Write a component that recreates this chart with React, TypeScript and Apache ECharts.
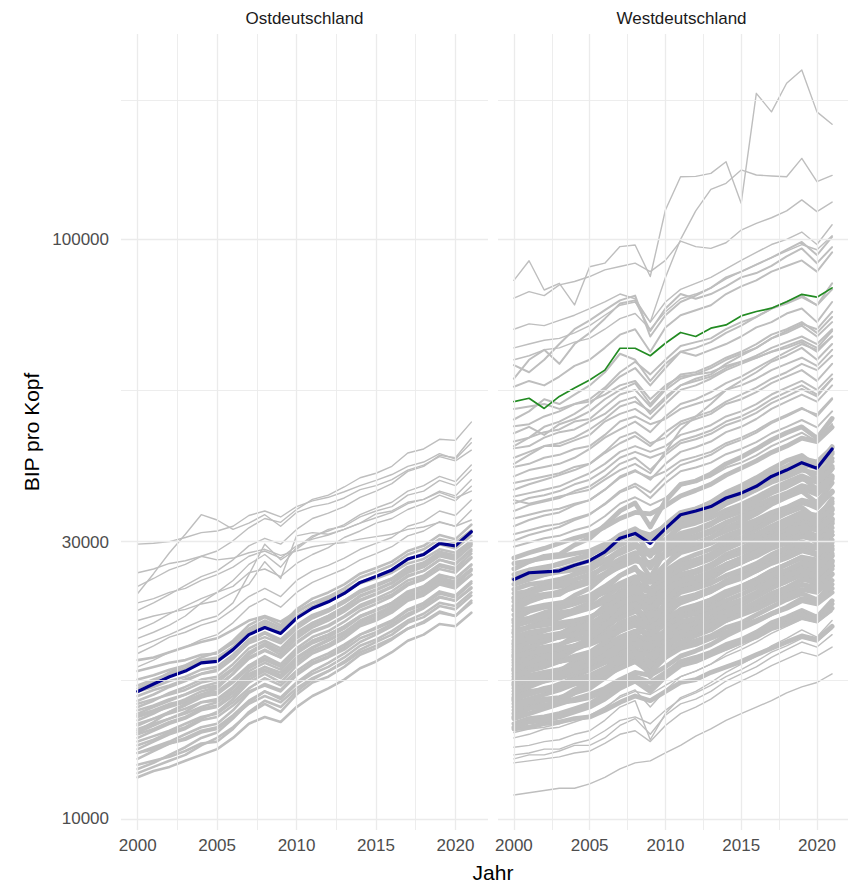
import React, { useEffect, useRef } from "react";
import * as echarts from "echarts";

// ---------------- data (GDP per capita, thousand EUR) ----------------
const years = [2000, 2001, 2002, 2003, 2004, 2005, 2006, 2007, 2008, 2009, 2010,
  2011, 2012, 2013, 2014, 2015, 2016, 2017, 2018, 2019, 2020, 2021];
const xTickValues = [2000, 2005, 2010, 2015, 2020];
const xMinorValues = [2002.5, 2007.5, 2012.5, 2017.5];
const yTickValues = [10000, 30000, 100000];
const yMinorValues = [17320.5, 54772.3, 173205];
const panelTitles = ["Ostdeutschland", "Westdeutschland"];
const xTitle = "Jahr";
const yTitle = "BIP pro Kopf";

const eastMean = [16.6, 17.1, 17.6, 18.0, 18.6, 18.7, 19.6, 20.8, 21.4, 20.9, 22.2, 23.1, 23.7, 24.5, 25.6, 26.2, 26.9, 28.1, 28.6, 29.9, 29.6, 31.3];

const eastUpper = [
  [25.2, 26.0, 26.9, 27.5, 28.4, 29.0, 30.2, 31.8, 33.0, 32.5, 34.2, 35.6, 36.2, 37.4, 38.8, 39.5, 40.6, 42.8, 43.5, 45.2, 45.0, 48.4],
  [22.9, 23.6, 24.4, 25.3, 26.2, 26.8, 28.0, 29.6, 30.5, 29.8, 31.6, 33.0, 33.7, 34.6, 35.9, 36.8, 37.9, 39.8, 40.6, 42.4, 42.0, 45.4],
  [29.8, 29.9, 30.1, 30.6, 31.2, 31.4, 32.0, 33.4, 34.0, 33.2, 34.6, 35.4, 35.9, 36.7, 37.6, 38.4, 39.3, 40.6, 41.3, 42.7, 41.8, 44.6],
  [24.5, 26.5, 28.8, 31.0, 33.5, 32.8, 31.6, 32.4, 33.5, 32.0, 33.8, 34.6, 35.0, 35.8, 37.0, 37.6, 38.5, 40.0, 40.8, 42.2, 41.5, 43.3],
  [21.2, 21.8, 22.6, 23.3, 24.0, 24.6, 25.8, 27.5, 28.6, 27.2, 29.4, 30.8, 31.4, 32.2, 33.5, 34.4, 35.2, 36.8, 37.6, 39.0, 38.2, 40.8],
  [19.8, 20.3, 20.8, 21.4, 22.0, 22.4, 23.6, 26.4, 29.8, 28.0, 29.2, 30.6, 31.6, 32.0, 33.2, 34.0, 34.6, 36.2, 36.8, 38.4, 37.6, 40.0],
  [23.6, 24.0, 24.6, 25.0, 25.8, 26.4, 27.2, 28.4, 29.0, 28.2, 29.6, 30.4, 30.9, 31.6, 32.4, 33.1, 33.8, 35.0, 35.6, 36.8, 36.1, 38.5],
  [19.3, 19.9, 20.6, 21.0, 21.6, 22.0, 23.0, 24.2, 25.0, 24.2, 25.8, 26.8, 27.4, 28.2, 29.2, 29.9, 30.6, 32.0, 32.6, 34.0, 33.4, 35.5],
  [18.3, 18.8, 19.4, 19.8, 20.4, 20.8, 21.8, 23.2, 24.0, 23.2, 24.6, 25.6, 26.3, 27.0, 28.0, 28.7, 29.5, 30.8, 31.4, 32.6, 32.0, 34.1],
  [26.6, 27.0, 27.6, 27.9, 28.4, 28.0, 28.2, 28.8, 29.2, 28.5, 29.0, 29.5, 29.8, 30.0, 30.4, 30.7, 31.0, 31.6, 31.9, 32.5, 32.0, 32.8],
  [22.0, 22.4, 22.7, 23.0, 23.5, 23.8, 24.6, 25.4, 27.8, 26.0, 30.8, 31.2, 31.0, 31.6, 32.4, 33.6, 34.0, 35.2, 35.6, 36.6, 35.8, 36.8],
  [20.5, 21.0, 21.6, 22.4, 23.6, 24.6, 25.2, 26.6, 27.0, 26.2, 27.6, 28.6, 29.4, 30.6, 31.4, 32.4, 33.0, 34.2, 35.0, 36.2, 35.4, 37.5],
];

const eastMass = [
  [11.8, 12.1, 12.3, 12.6, 12.9, 13.2, 13.8, 14.6, 15.0, 14.7, 15.6, 16.3, 16.8, 17.4, 18.2, 18.7, 19.4, 20.3, 20.8, 21.7, 21.5, 22.7],
  [12.0, 12.3, 12.6, 12.9, 13.4, 13.8, 14.4, 15.2, 15.8, 15.3, 16.4, 17.2, 17.6, 18.3, 19.2, 19.7, 20.4, 21.3, 21.9, 22.8, 22.4, 23.8],
  [12.4, 12.6, 12.8, 13.1, 13.5, 13.6, 14.3, 15.3, 16.0, 15.6, 16.6, 17.4, 18.0, 18.7, 19.6, 20.2, 20.8, 21.8, 22.3, 23.3, 23.0, 24.3],
  [12.7, 13.1, 13.5, 13.8, 14.2, 14.4, 15.1, 16.0, 16.6, 16.1, 17.1, 17.8, 18.3, 19.0, 19.9, 20.4, 21.1, 22.0, 22.6, 23.6, 23.3, 24.6],
  [13.0, 13.3, 13.6, 14.0, 14.4, 14.6, 15.4, 16.5, 17.1, 16.7, 17.8, 18.6, 19.1, 19.8, 20.8, 21.3, 21.9, 22.9, 23.4, 24.5, 24.1, 25.5],
  [13.2, 13.6, 14.0, 14.3, 14.8, 15.0, 15.7, 16.6, 17.0, 16.6, 17.7, 18.5, 19.0, 19.6, 20.5, 21.0, 21.7, 22.6, 23.2, 24.2, 23.8, 25.0],
  [13.4, 13.7, 14.1, 14.4, 14.9, 15.3, 16.1, 17.2, 17.8, 17.2, 18.4, 19.3, 19.8, 20.5, 21.5, 22.0, 22.7, 23.8, 24.3, 25.4, 25.0, 26.4],
  [13.6, 13.9, 14.2, 14.6, 15.0, 15.2, 15.9, 16.8, 17.5, 17.0, 18.0, 18.8, 19.3, 20.0, 20.8, 21.4, 22.0, 23.0, 23.6, 24.7, 24.3, 25.7],
  [13.8, 14.2, 14.6, 14.9, 15.4, 15.6, 16.3, 17.4, 18.0, 17.5, 18.6, 19.5, 20.0, 20.7, 21.7, 22.2, 22.9, 24.0, 24.5, 25.7, 25.3, 26.9],
  [14.0, 14.3, 14.7, 15.0, 15.5, 15.7, 16.5, 17.6, 18.3, 17.7, 18.9, 19.7, 20.3, 21.0, 21.9, 22.5, 23.1, 24.1, 24.7, 25.8, 25.5, 26.8],
  [14.1, 14.5, 14.9, 15.3, 15.9, 16.1, 16.9, 18.0, 18.6, 18.1, 19.3, 20.1, 20.6, 21.3, 22.3, 22.9, 23.6, 24.6, 25.2, 26.4, 26.0, 27.5],
  [14.3, 14.6, 14.9, 15.2, 15.6, 15.9, 16.6, 17.6, 18.1, 17.6, 18.7, 19.5, 20.0, 20.8, 21.7, 22.3, 22.9, 24.0, 24.5, 25.6, 25.2, 26.4],
  [14.5, 14.9, 15.3, 15.7, 16.2, 16.5, 17.3, 18.4, 19.1, 18.5, 19.7, 20.6, 21.1, 21.9, 22.9, 23.5, 24.2, 25.3, 25.9, 27.0, 26.6, 28.2],
  [14.6, 14.9, 15.2, 15.5, 15.9, 16.0, 16.8, 17.8, 18.3, 17.9, 19.0, 19.8, 20.4, 21.0, 22.0, 22.6, 23.3, 24.3, 24.8, 25.9, 25.6, 27.0],
  [14.8, 15.2, 15.7, 16.1, 16.6, 16.9, 17.8, 19.0, 19.6, 19.0, 20.2, 21.1, 21.6, 22.4, 23.4, 24.0, 24.7, 25.8, 26.3, 27.5, 27.1, 28.7],
  [15.0, 15.3, 15.6, 15.9, 16.3, 16.4, 17.2, 18.2, 18.8, 18.3, 19.4, 20.3, 20.8, 21.5, 22.4, 23.0, 23.6, 24.7, 25.2, 26.3, 26.0, 27.4],
  [15.2, 15.6, 16.0, 16.4, 16.9, 17.2, 18.1, 19.3, 19.9, 19.2, 20.5, 21.4, 22.0, 22.8, 23.8, 24.4, 25.1, 26.2, 26.8, 28.0, 27.6, 29.2],
  [15.4, 15.7, 16.1, 16.4, 16.8, 17.0, 17.8, 18.9, 19.5, 19.0, 20.1, 21.0, 21.5, 22.3, 23.2, 23.8, 24.4, 25.5, 26.1, 27.3, 26.9, 28.3],
  [15.6, 16.0, 16.5, 16.9, 17.4, 17.6, 18.5, 19.7, 20.3, 19.7, 21.0, 21.8, 22.4, 23.2, 24.2, 24.8, 25.5, 26.6, 27.2, 28.4, 28.0, 29.6],
  [15.8, 16.1, 16.4, 16.7, 17.2, 17.4, 18.2, 19.4, 20.1, 19.5, 20.7, 21.6, 22.2, 23.0, 23.9, 24.5, 25.2, 26.3, 26.8, 28.0, 27.5, 29.0],
  [16.0, 16.4, 16.9, 17.3, 17.8, 18.1, 19.0, 20.1, 20.6, 20.1, 21.3, 22.2, 22.8, 23.6, 24.6, 25.2, 25.9, 27.0, 27.6, 28.8, 28.3, 30.0],
  [16.3, 16.7, 17.0, 17.4, 17.8, 18.0, 18.9, 20.2, 20.9, 20.2, 21.5, 22.4, 23.0, 23.8, 24.8, 25.4, 26.0, 27.2, 27.7, 28.9, 28.5, 30.1],
  [16.6, 16.9, 17.3, 17.6, 18.1, 18.3, 19.2, 20.4, 21.0, 20.4, 21.6, 22.5, 23.0, 23.8, 24.7, 25.3, 26.0, 27.1, 27.6, 28.8, 28.4, 29.8],
  [17.0, 17.4, 17.8, 18.2, 18.7, 18.9, 19.8, 21.0, 21.6, 21.0, 22.3, 23.2, 23.7, 24.5, 25.6, 26.2, 26.9, 28.1, 28.7, 29.9, 29.5, 31.2],
  [17.4, 17.7, 18.1, 18.4, 18.8, 19.0, 19.8, 21.1, 21.8, 21.2, 22.4, 23.3, 23.9, 24.7, 25.6, 26.2, 26.9, 28.0, 28.6, 29.8, 29.3, 30.8],
  [12.2, 12.5, 12.9, 13.3, 13.8, 14.1, 14.9, 15.9, 16.6, 16.2, 17.2, 18.0, 18.6, 19.3, 20.2, 20.8, 21.5, 22.4, 23.1, 24.1, 23.8, 25.1],
  [13.0, 13.2, 13.5, 13.7, 14.1, 14.3, 15.0, 15.8, 16.3, 15.9, 16.8, 17.5, 18.0, 18.6, 19.4, 19.9, 20.5, 21.3, 21.8, 22.7, 22.4, 23.6],
  [14.2, 14.7, 15.3, 15.8, 16.4, 16.8, 17.8, 19.2, 20.0, 19.4, 20.8, 21.8, 22.4, 23.2, 24.3, 24.9, 25.6, 26.8, 27.4, 28.6, 28.2, 29.8],
  [15.1, 15.4, 15.8, 16.0, 16.4, 16.6, 17.4, 18.4, 18.9, 18.4, 19.5, 20.3, 20.8, 21.5, 22.4, 22.9, 23.5, 24.5, 25.0, 26.1, 25.7, 27.0],
  [16.8, 17.3, 17.9, 18.4, 19.0, 19.4, 20.3, 21.6, 22.3, 21.6, 23.0, 24.0, 24.6, 25.4, 26.5, 27.1, 27.8, 29.0, 29.6, 30.9, 30.4, 32.2],
  [18.0, 18.3, 18.6, 18.8, 19.2, 19.3, 20.1, 21.3, 22.0, 21.4, 22.7, 23.6, 24.2, 25.0, 26.1, 26.7, 27.4, 28.6, 29.2, 30.4, 30.0, 31.5],
  [18.8, 19.0, 19.4, 19.8, 20.2, 20.5, 21.2, 22.0, 22.4, 21.9, 22.8, 23.6, 24.0, 24.7, 25.5, 26.0, 26.6, 27.6, 28.1, 29.2, 28.8, 30.2],
];

const westMean = [25.9, 26.6, 26.7, 26.8, 27.4, 27.9, 28.9, 30.5, 31.1, 29.9, 31.7, 33.5, 34.0, 34.6, 35.8, 36.5, 37.5, 39.0, 40.0, 41.2, 40.3, 43.5];
const westHighlight = [52.5, 53.2, 51.1, 53.6, 55.4, 57.2, 59.5, 64.9, 64.9, 63.0, 66.2, 69.1, 68.0, 70.3, 71.2, 73.8, 75.1, 76.1, 78.1, 80.4, 79.5, 82.5];

const westTop = [
  [85.0, 91.9, 81.8, 84.0, 77.1, 89.7, 91.0, 97.2, 97.8, 86.3, 112.4, 128.3, 128.5, 130.0, 136.2, 115.5, 178.7, 166.0, 186.0, 196.0, 166.0, 158.0],
  [79.2, 81.3, 80.0, 83.5, 84.6, 86.3, 88.6, 89.8, 91.0, 88.0, 92.0, 99.3, 97.2, 96.5, 98.7, 103.8, 106.6, 109.0, 112.0, 117.0, 111.7, 116.0],
  [70.0, 71.5, 71.0, 72.5, 74.0, 76.0, 78.0, 80.5, 79.0, 72.0, 86.0, 100.0, 112.0, 122.0, 125.0, 131.8, 129.2, 128.7, 128.3, 138.0, 125.8, 129.0],
  [65.0, 66.0, 67.0, 67.5, 69.0, 71.0, 74.0, 77.0, 78.0, 72.0, 78.0, 82.0, 84.0, 86.0, 89.0, 92.0, 95.0, 98.0, 100.0, 103.0, 98.0, 106.0],
  [62.0, 63.0, 64.5, 65.0, 66.5, 67.5, 70.0, 73.0, 74.5, 70.0, 75.0, 79.0, 80.5, 82.5, 85.5, 88.0, 90.5, 93.0, 95.5, 98.0, 96.0, 101.5],
];

const westUpper = [
  [60.7, 59.0, 62.0, 66.0, 70.0, 72.5, 75.5, 78.5, 80.0, 68.0, 74.0, 78.0, 80.0, 82.5, 86.0, 88.0, 90.5, 93.0, 96.0, 99.0, 94.0, 101.0],
  [57.5, 62.0, 64.5, 61.0, 66.0, 69.0, 73.0, 77.5, 78.5, 69.5, 76.0, 80.5, 79.0, 80.5, 83.0, 86.0, 87.5, 90.0, 93.5, 96.5, 91.0, 97.0],
  [55.7, 57.0, 56.0, 58.0, 60.5, 62.0, 65.0, 68.5, 70.0, 64.0, 70.5, 74.0, 75.5, 77.0, 80.5, 83.0, 85.0, 88.0, 90.0, 92.0, 88.0, 95.0],
  [48.9, 50.5, 53.0, 52.0, 54.0, 56.0, 59.0, 63.5, 62.0, 57.0, 61.0, 64.0, 63.0, 64.5, 66.0, 68.0, 70.5, 72.0, 74.5, 76.0, 72.0, 78.0],
  [47.6, 48.0, 49.5, 50.5, 52.0, 53.0, 55.5, 59.0, 61.5, 58.5, 62.0, 65.5, 66.5, 67.5, 70.0, 72.0, 73.5, 76.0, 78.0, 80.0, 77.0, 82.0],
  [46.3, 47.5, 46.0, 48.0, 49.0, 50.5, 53.0, 55.0, 56.5, 52.0, 55.5, 58.5, 59.0, 60.5, 62.5, 64.0, 66.0, 68.5, 70.0, 72.0, 69.0, 73.5],
  [44.8, 45.5, 46.5, 47.0, 48.5, 49.0, 51.5, 54.0, 55.0, 51.5, 55.0, 57.5, 58.5, 60.0, 62.0, 63.5, 65.0, 67.5, 69.0, 71.0, 68.0, 72.0],
  [43.6, 44.0, 45.5, 46.5, 47.0, 48.5, 50.0, 52.5, 53.5, 50.0, 53.0, 56.0, 57.0, 58.0, 60.0, 61.5, 63.0, 65.0, 66.5, 68.0, 66.0, 70.0],
  [42.0, 43.0, 44.0, 44.5, 45.5, 47.0, 49.0, 51.5, 52.5, 50.5, 53.5, 56.0, 57.5, 58.5, 61.0, 63.0, 65.0, 67.5, 69.5, 71.5, 70.0, 75.0],
  [40.5, 41.0, 42.0, 42.5, 43.5, 44.0, 46.0, 48.5, 49.5, 48.0, 49.0, 51.0, 52.0, 53.0, 55.0, 56.0, 57.5, 59.5, 61.0, 62.5, 60.5, 64.5],
  [39.0, 40.0, 40.5, 41.0, 42.0, 43.5, 45.5, 47.0, 48.5, 46.5, 49.5, 52.0, 53.0, 54.5, 56.5, 58.0, 60.0, 62.0, 64.0, 66.0, 64.5, 68.0],
  [38.0, 38.5, 39.0, 39.5, 40.5, 41.0, 43.0, 45.5, 46.5, 44.5, 45.5, 48.0, 49.0, 50.0, 52.0, 53.0, 54.5, 56.5, 58.0, 59.5, 57.0, 61.0],
  [37.0, 37.8, 38.5, 39.2, 40.0, 41.0, 42.8, 44.5, 45.8, 44.0, 46.5, 48.5, 49.5, 50.5, 52.5, 54.0, 55.5, 57.5, 59.0, 61.0, 59.5, 63.0],
  [36.0, 36.5, 37.0, 37.5, 38.5, 39.5, 41.0, 43.0, 44.0, 43.0, 44.0, 46.0, 46.8, 47.8, 49.5, 50.5, 52.0, 54.0, 55.5, 57.0, 55.0, 58.5],
  [35.0, 35.8, 36.2, 36.8, 37.8, 38.5, 40.0, 42.0, 43.0, 42.0, 43.0, 45.0, 45.8, 46.8, 48.5, 49.5, 51.0, 53.0, 54.5, 56.0, 54.0, 57.5],
  [34.0, 34.8, 35.3, 35.8, 36.8, 37.5, 39.0, 41.0, 42.0, 40.0, 42.5, 44.5, 45.2, 46.2, 47.8, 48.8, 50.2, 52.2, 53.6, 55.2, 53.6, 57.5],
  [33.0, 33.5, 34.0, 34.3, 35.0, 35.5, 37.0, 38.8, 39.8, 38.8, 39.8, 41.5, 42.2, 43.0, 44.5, 45.5, 46.8, 48.5, 49.8, 51.2, 49.5, 53.0],
  [32.0, 32.8, 33.4, 33.8, 34.8, 35.5, 37.0, 39.0, 40.0, 38.5, 41.0, 43.0, 43.8, 44.8, 46.5, 47.5, 49.0, 51.0, 52.5, 54.0, 52.5, 56.0],
  [31.0, 31.5, 32.0, 32.3, 33.0, 33.6, 34.9, 36.6, 37.5, 35.8, 38.0, 39.8, 40.4, 41.2, 42.6, 43.5, 44.7, 46.3, 47.5, 48.8, 47.4, 50.5],
  [30.2, 30.9, 31.4, 31.9, 32.8, 33.5, 35.0, 36.8, 37.9, 36.6, 38.9, 40.8, 41.6, 42.5, 44.1, 45.1, 46.4, 48.2, 49.5, 51.0, 49.9, 53.2],
  [29.5, 30.0, 30.5, 30.8, 31.5, 32.0, 33.3, 35.0, 35.9, 34.8, 35.8, 37.6, 38.2, 39.0, 40.4, 41.2, 42.4, 44.0, 45.2, 46.4, 44.8, 48.0],
  [35.5, 35.0, 35.5, 36.0, 36.5, 37.0, 38.5, 40.0, 41.0, 39.5, 43.0, 47.0, 49.5, 52.0, 55.0, 57.0, 59.0, 61.5, 63.0, 65.0, 62.0, 66.0],
  [51.0, 51.5, 52.0, 51.0, 52.0, 52.5, 54.0, 56.0, 57.0, 53.0, 56.0, 58.0, 58.5, 59.0, 60.5, 61.5, 62.5, 64.0, 65.0, 66.5, 64.0, 68.0],
  [41.0, 42.5, 44.0, 44.0, 45.0, 46.0, 48.5, 50.0, 51.0, 49.0, 52.0, 55.0, 56.0, 57.5, 59.5, 61.0, 62.5, 64.0, 65.5, 67.0, 65.0, 69.5],
  [44.0, 45.5, 47.5, 48.5, 50.0, 52.0, 55.0, 58.0, 60.0, 56.0, 60.0, 64.0, 65.0, 66.5, 69.0, 71.0, 73.5, 76.0, 77.5, 79.5, 77.0, 84.0],
];

const westMass = [
  [14.3, 14.4, 14.6, 14.7, 14.9, 15.0, 15.4, 15.9, 16.3, 16.0, 16.6, 17.2, 17.4, 17.9, 18.3, 18.7, 19.2, 19.7, 20.2, 20.7, 20.4, 21.5],
  [14.6, 14.9, 15.0, 15.2, 15.5, 15.8, 16.4, 17.1, 17.5, 16.8, 17.8, 18.7, 19.0, 19.4, 20.0, 20.4, 21.0, 21.8, 22.3, 22.9, 22.3, 23.8],
  [14.9, 15.2, 15.5, 15.8, 16.1, 16.4, 16.8, 17.4, 17.9, 17.7, 18.3, 19.1, 19.5, 20.0, 20.7, 21.3, 21.9, 22.6, 23.2, 24.0, 23.7, 25.0],
  [15.2, 15.7, 16.0, 16.1, 16.7, 17.2, 18.1, 19.2, 19.8, 17.9, 19.9, 21.3, 21.6, 22.2, 23.1, 23.7, 24.5, 25.4, 26.1, 26.8, 25.5, 27.7],
  [15.4, 15.6, 15.7, 15.9, 16.0, 16.2, 16.6, 17.1, 17.6, 17.2, 17.9, 18.5, 18.8, 19.3, 19.7, 20.2, 20.6, 21.3, 21.7, 22.3, 22.0, 23.1],
  [15.6, 15.9, 16.1, 16.2, 16.5, 16.8, 17.5, 18.3, 18.7, 17.9, 19.0, 20.0, 20.3, 20.7, 21.4, 21.8, 22.5, 23.2, 23.9, 24.5, 23.9, 25.4],
  [15.8, 16.1, 16.4, 16.7, 17.1, 17.4, 17.9, 18.5, 19.0, 18.8, 19.4, 20.2, 20.7, 21.2, 22.0, 22.6, 23.2, 24.0, 24.6, 25.4, 25.1, 26.5],
  [16.0, 16.5, 16.8, 17.0, 17.6, 18.1, 19.0, 20.2, 20.8, 18.9, 21.0, 22.4, 22.7, 23.4, 24.3, 25.0, 25.8, 26.7, 27.5, 28.2, 26.9, 29.1],
  [16.2, 16.5, 16.7, 16.8, 17.2, 17.5, 18.1, 19.0, 19.4, 18.6, 19.8, 20.7, 21.1, 21.5, 22.2, 22.7, 23.3, 24.1, 24.8, 25.4, 24.8, 26.4],
  [16.4, 16.6, 16.7, 16.9, 17.1, 17.2, 17.7, 18.2, 18.7, 18.4, 19.0, 19.7, 20.0, 20.5, 21.0, 21.5, 22.0, 22.6, 23.1, 23.8, 23.5, 24.6],
  [16.6, 16.9, 17.3, 17.6, 17.9, 18.3, 18.8, 19.4, 19.9, 19.8, 20.4, 21.2, 21.7, 22.2, 23.1, 23.7, 24.4, 25.2, 25.9, 26.7, 26.4, 27.9],
  [16.8, 17.1, 17.3, 17.5, 17.8, 18.1, 18.8, 19.7, 20.2, 19.3, 20.5, 21.5, 21.8, 22.3, 23.0, 23.5, 24.2, 25.0, 25.7, 26.4, 25.7, 27.4],
  [17.0, 17.5, 17.9, 18.0, 18.7, 19.2, 20.2, 21.4, 22.1, 20.1, 22.3, 23.8, 24.1, 24.8, 25.8, 26.5, 27.4, 28.4, 29.2, 29.9, 28.6, 30.9],
  [17.2, 17.4, 17.5, 17.7, 17.9, 18.1, 18.6, 19.1, 19.6, 19.3, 20.0, 20.6, 21.0, 21.5, 22.0, 22.5, 23.0, 23.7, 24.3, 24.9, 24.6, 25.8],
  [17.4, 17.7, 17.9, 18.1, 18.4, 18.8, 19.5, 20.4, 20.9, 20.0, 21.2, 22.3, 22.6, 23.1, 23.8, 24.4, 25.1, 25.9, 26.6, 27.3, 26.6, 28.4],
  [17.6, 18.0, 18.3, 18.7, 19.0, 19.4, 19.9, 20.6, 21.1, 20.9, 21.6, 22.5, 23.1, 23.6, 24.5, 25.2, 25.9, 26.8, 27.5, 28.3, 28.0, 29.6],
  [17.8, 18.3, 18.7, 18.9, 19.6, 20.1, 21.2, 22.4, 23.1, 21.0, 23.3, 24.9, 25.3, 26.0, 27.1, 27.8, 28.7, 29.7, 30.6, 31.3, 29.9, 32.4],
  [18.0, 18.4, 18.5, 18.7, 19.1, 19.4, 20.2, 21.1, 21.6, 20.7, 22.0, 23.0, 23.4, 23.9, 24.7, 25.2, 25.9, 26.8, 27.5, 28.3, 27.5, 29.3],
  [18.2, 18.4, 18.6, 18.7, 18.9, 19.1, 19.7, 20.2, 20.7, 20.4, 21.1, 21.8, 22.2, 22.8, 23.3, 23.8, 24.4, 25.1, 25.7, 26.4, 26.0, 27.3],
  [18.4, 18.8, 19.1, 19.5, 19.9, 20.2, 20.8, 21.5, 22.1, 21.9, 22.6, 23.6, 24.1, 24.7, 25.6, 26.3, 27.0, 28.0, 28.7, 29.6, 29.3, 30.9],
  [18.6, 19.0, 19.2, 19.3, 19.7, 20.1, 20.8, 21.8, 22.3, 21.4, 22.7, 23.8, 24.2, 24.7, 25.5, 26.0, 26.8, 27.7, 28.5, 29.2, 28.5, 30.3],
  [18.8, 19.4, 19.7, 19.9, 20.7, 21.2, 22.4, 23.7, 24.4, 22.2, 24.6, 26.3, 26.7, 27.4, 28.6, 29.3, 30.3, 31.4, 32.3, 33.1, 31.6, 34.2],
  [19.0, 19.2, 19.4, 19.6, 19.8, 20.0, 20.5, 21.1, 21.7, 21.3, 22.0, 22.8, 23.2, 23.8, 24.3, 24.9, 25.5, 26.2, 26.8, 27.6, 27.2, 28.5],
  [19.2, 19.6, 19.8, 20.0, 20.4, 20.7, 21.5, 22.5, 23.0, 22.1, 23.4, 24.6, 25.0, 25.5, 26.3, 26.9, 27.6, 28.6, 29.4, 30.1, 29.4, 31.3],
  [19.4, 19.8, 20.2, 20.6, 21.0, 21.3, 21.9, 22.7, 23.3, 23.1, 23.9, 24.8, 25.4, 26.0, 27.0, 27.7, 28.5, 29.5, 30.3, 31.2, 30.8, 32.6],
  [19.6, 20.2, 20.6, 20.8, 21.6, 22.1, 23.3, 24.7, 25.5, 23.1, 25.7, 27.4, 27.8, 28.6, 29.8, 30.6, 31.6, 32.7, 33.7, 34.5, 32.9, 35.7],
  [19.8, 20.2, 20.4, 20.6, 21.0, 21.4, 22.2, 23.2, 23.8, 22.8, 24.2, 25.3, 25.7, 26.3, 27.1, 27.7, 28.5, 29.5, 30.3, 31.1, 30.3, 32.3],
  [20.0, 20.2, 20.4, 20.6, 20.8, 21.0, 21.6, 22.2, 22.8, 22.4, 23.2, 24.0, 24.4, 25.0, 25.6, 26.2, 26.8, 27.6, 28.2, 29.0, 28.6, 30.0],
  [20.3, 20.7, 21.1, 21.5, 21.9, 22.3, 22.9, 23.8, 24.4, 24.2, 25.0, 26.0, 26.6, 27.2, 28.2, 29.0, 29.8, 30.9, 31.7, 32.7, 32.3, 34.1],
  [20.6, 21.0, 21.2, 21.4, 21.8, 22.2, 23.1, 24.1, 24.7, 23.7, 25.1, 26.4, 26.8, 27.4, 28.2, 28.8, 29.7, 30.7, 31.5, 32.3, 31.5, 33.6],
  [20.9, 21.5, 21.9, 22.2, 23.0, 23.6, 24.9, 26.3, 27.2, 24.7, 27.4, 29.3, 29.7, 30.5, 31.8, 32.6, 33.6, 34.9, 35.9, 36.8, 35.1, 38.0],
  [21.2, 21.4, 21.6, 21.8, 22.0, 22.3, 22.9, 23.5, 24.2, 23.7, 24.6, 25.4, 25.9, 26.5, 27.1, 27.8, 28.4, 29.3, 29.9, 30.7, 30.3, 31.8],
  [21.5, 21.9, 22.1, 22.4, 22.8, 23.2, 24.1, 25.2, 25.8, 24.7, 26.2, 27.5, 28.0, 28.6, 29.5, 30.1, 31.0, 32.0, 32.9, 33.8, 32.9, 35.0],
  [21.8, 22.2, 22.7, 23.1, 23.5, 24.0, 24.6, 25.5, 26.2, 25.9, 26.8, 27.9, 28.6, 29.2, 30.3, 31.2, 32.0, 33.1, 34.0, 35.1, 34.7, 36.6],
  [22.1, 22.8, 23.2, 23.4, 24.3, 25.0, 26.3, 27.8, 28.7, 26.1, 29.0, 30.9, 31.4, 32.3, 33.6, 34.5, 35.6, 36.9, 38.0, 38.9, 37.1, 40.2],
  [22.5, 23.0, 23.2, 23.4, 23.9, 24.3, 25.2, 26.3, 27.0, 25.9, 27.5, 28.8, 29.3, 29.9, 30.8, 31.5, 32.4, 33.5, 34.4, 35.3, 34.4, 36.7],
  [22.9, 23.1, 23.4, 23.6, 23.8, 24.0, 24.7, 25.4, 26.1, 25.6, 26.6, 27.5, 27.9, 28.6, 29.3, 30.0, 30.7, 31.6, 32.3, 33.2, 32.7, 34.4],
  [23.3, 23.8, 24.2, 24.7, 25.2, 25.6, 26.3, 27.3, 28.0, 27.7, 28.7, 29.8, 30.5, 31.2, 32.4, 33.3, 34.3, 35.4, 36.3, 37.5, 37.0, 39.1],
  [23.7, 24.2, 24.4, 24.6, 25.1, 25.6, 26.5, 27.7, 28.4, 27.3, 28.9, 30.3, 30.8, 31.5, 32.5, 33.2, 34.1, 35.3, 36.3, 37.2, 36.3, 38.6],
  [24.1, 24.8, 25.3, 25.5, 26.5, 27.2, 28.7, 30.4, 31.3, 28.4, 31.6, 33.7, 34.2, 35.2, 36.6, 37.6, 38.8, 40.2, 41.5, 42.4, 40.5, 43.9],
  [24.5, 24.7, 25.0, 25.2, 25.5, 25.7, 26.5, 27.2, 27.9, 27.4, 28.4, 29.4, 29.9, 30.6, 31.4, 32.1, 32.8, 33.8, 34.5, 35.5, 35.0, 36.8],
  [24.9, 25.4, 25.6, 25.9, 26.4, 26.9, 27.9, 29.1, 29.9, 28.6, 30.4, 31.9, 32.4, 33.1, 34.1, 34.9, 35.9, 37.1, 38.1, 39.1, 38.1, 40.6],
  [25.4, 25.9, 26.4, 26.9, 27.4, 27.9, 28.7, 29.7, 30.5, 30.2, 31.2, 32.5, 33.3, 34.0, 35.3, 36.3, 37.3, 38.6, 39.6, 40.9, 40.4, 42.7],
  [25.9, 26.2, 26.4, 26.7, 26.9, 27.2, 28.0, 28.7, 29.5, 29.0, 30.0, 31.1, 31.6, 32.4, 33.2, 33.9, 34.7, 35.7, 36.5, 37.6, 37.0, 38.9],
  [26.4, 26.9, 27.2, 27.5, 28.0, 28.5, 29.6, 30.9, 31.7, 30.4, 32.2, 33.8, 34.3, 35.1, 36.2, 37.0, 38.0, 39.3, 40.4, 41.4, 40.4, 43.0],
  [27.0, 27.8, 28.4, 28.6, 29.7, 30.5, 32.1, 34.0, 35.1, 31.9, 35.4, 37.8, 38.3, 39.4, 41.0, 42.1, 43.5, 45.1, 46.4, 47.5, 45.4, 49.1],
  [27.6, 27.9, 28.2, 28.4, 28.7, 29.0, 29.8, 30.6, 31.5, 30.9, 32.0, 33.1, 33.7, 34.5, 35.3, 36.2, 37.0, 38.1, 38.9, 40.0, 39.5, 41.4],
  [28.2, 28.8, 29.3, 29.9, 30.5, 31.0, 31.9, 33.0, 33.8, 33.6, 34.7, 36.1, 36.9, 37.8, 39.2, 40.3, 41.5, 42.9, 44.0, 45.4, 44.8, 47.4],
  [15.0, 15.5, 15.7, 15.9, 16.5, 17.0, 17.9, 18.9, 19.5, 17.6, 19.6, 21.0, 21.3, 21.9, 22.8, 23.4, 24.2, 25.1, 25.8, 26.4, 25.2, 27.3],
  [16.1, 16.4, 16.7, 17.1, 17.4, 17.7, 18.2, 18.8, 19.3, 19.2, 19.8, 20.6, 21.1, 21.6, 22.4, 23.0, 23.7, 24.5, 25.1, 25.9, 25.6, 27.0],
  [17.1, 17.4, 17.6, 17.8, 18.1, 18.5, 19.2, 20.0, 20.5, 19.7, 20.9, 21.9, 22.2, 22.7, 23.4, 23.9, 24.6, 25.5, 26.2, 26.8, 26.2, 27.9],
  [18.1, 18.6, 19.0, 19.2, 19.9, 20.5, 21.5, 22.8, 23.5, 21.4, 23.7, 25.3, 25.7, 26.4, 27.5, 28.2, 29.1, 30.2, 31.1, 31.9, 30.4, 32.9],
  [19.1, 19.3, 19.5, 19.7, 19.9, 20.1, 20.6, 21.2, 21.8, 21.4, 22.2, 22.9, 23.3, 23.9, 24.4, 25.0, 25.6, 26.4, 26.9, 27.7, 27.3, 28.7],
  [20.1, 20.5, 20.7, 20.9, 21.3, 21.7, 22.5, 23.5, 24.1, 23.1, 24.5, 25.7, 26.1, 26.7, 27.5, 28.1, 28.9, 29.9, 30.8, 31.6, 30.8, 32.8],
  [21.0, 21.4, 21.8, 22.3, 22.7, 23.1, 23.7, 24.6, 25.2, 25.0, 25.8, 26.9, 27.5, 28.1, 29.2, 30.0, 30.9, 31.9, 32.8, 33.8, 33.4, 35.3],
  [22.0, 22.2, 22.4, 22.7, 22.9, 23.1, 23.8, 24.4, 25.1, 24.6, 25.5, 26.4, 26.8, 27.5, 28.2, 28.8, 29.5, 30.4, 31.0, 31.9, 31.5, 33.0],
  [23.0, 23.7, 24.2, 24.4, 25.3, 26.0, 27.4, 29.0, 29.9, 27.1, 30.1, 32.2, 32.7, 33.6, 35.0, 35.9, 37.0, 38.4, 39.6, 40.5, 38.6, 41.9],
  [24.0, 24.5, 25.0, 25.4, 25.9, 26.4, 27.1, 28.1, 28.8, 28.6, 29.5, 30.7, 31.4, 32.2, 33.4, 34.3, 35.3, 36.5, 37.4, 38.6, 38.2, 40.3],
  [26.0, 26.5, 27.0, 27.6, 28.1, 28.6, 29.4, 30.4, 31.2, 30.9, 32.0, 33.3, 34.1, 34.8, 36.1, 37.2, 38.2, 39.5, 40.6, 41.9, 41.3, 43.7],
  [14.4, 14.7, 14.8, 15.0, 15.3, 15.6, 16.1, 16.8, 17.3, 16.6, 17.6, 18.4, 18.7, 19.2, 19.7, 20.2, 20.7, 21.5, 22.0, 22.6, 22.0, 23.5],
];

const westLow = [
  [11.0, 11.1, 11.2, 11.3, 11.3, 11.5, 11.8, 12.2, 12.5, 12.6, 13.0, 13.4, 13.9, 14.3, 14.8, 15.2, 15.6, 16.0, 16.5, 16.9, 17.2, 17.8],
  [12.5, 12.6, 12.7, 12.8, 13.0, 13.1, 13.5, 14.0, 14.2, 13.6, 14.5, 15.2, 15.6, 16.1, 16.8, 17.3, 17.8, 18.4, 18.9, 19.4, 19.1, 19.8],
  [12.7, 12.9, 12.9, 13.1, 13.4, 13.4, 13.8, 14.5, 14.9, 14.0, 15.1, 15.8, 16.1, 16.6, 17.3, 17.8, 18.3, 19.0, 19.6, 20.2, 19.8, 20.8],
  [12.9, 13.0, 13.2, 13.2, 13.5, 13.7, 14.2, 14.8, 15.0, 14.6, 15.4, 16.1, 16.5, 17.0, 17.6, 18.1, 18.7, 19.4, 19.9, 20.5, 20.2, 21.3],
  [13.3, 13.4, 13.6, 13.7, 14.0, 14.2, 14.8, 15.6, 16.0, 13.7, 15.2, 16.2, 16.6, 17.2, 17.9, 18.5, 19.1, 19.9, 20.5, 21.2, 20.6, 22.0],
  [13.8, 14.0, 14.3, 14.4, 14.7, 15.0, 15.5, 16.3, 16.7, 15.6, 16.7, 17.6, 18.0, 18.5, 19.3, 19.9, 20.5, 21.3, 22.0, 22.7, 22.1, 23.5],
  [14.1, 14.3, 14.4, 14.6, 14.9, 15.1, 15.6, 16.2, 16.6, 16.4, 17.0, 17.6, 18.0, 18.5, 19.1, 19.6, 20.2, 20.9, 21.5, 22.1, 21.8, 22.8],
];

// ---------------- styling ----------------
const FONT = "Liberation Sans, Arial, Helvetica, sans-serif";
const GRAY = "#BEBEBE";
const BLUE = "#00008B";
const GREEN = "#228B22";
const GRID_COLOR = "#EBEBEB";
const gridPos = [
  { left: 121, top: 34, width: 367, height: 796 },
  { left: 498, top: 34, width: 367, height: 796 },
];
const lg = (v: number) => Math.log10(v);
const toData = (vals: number[]) => vals.map((v, i) => [years[i], lg(v * 1000)]);

function lineSeries(vals: number[], panel: number, color: string, width: number, z: number) {
  return {
    type: "line",
    xAxisIndex: panel,
    yAxisIndex: panel,
    data: toData(vals),
    showSymbol: false,
    symbol: "none",
    silent: true,
    z,
    lineStyle: { color, width, cap: "round", join: "round" },
    emphasis: { disabled: true },
    animation: false,
  };
}

function gridSeries(panel: number) {
  const major = { color: GRID_COLOR, width: 1.3, type: "solid" };
  const minor = { color: GRID_COLOR, width: 0.9, type: "solid" };
  return {
    type: "line",
    xAxisIndex: panel,
    yAxisIndex: panel,
    data: [],
    z: 1,
    silent: true,
    markLine: {
      silent: true,
      symbol: ["none", "none"],
      label: { show: false },
      animation: false,
      emphasis: { disabled: true },
      data: [
        ...xTickValues.map((x) => ({ xAxis: x, lineStyle: major })),
        ...xMinorValues.map((x) => ({ xAxis: x, lineStyle: minor })),
        ...yTickValues.map((y) => ({ yAxis: lg(y), lineStyle: major })),
        ...yMinorValues.map((y) => ({ yAxis: lg(y), lineStyle: minor })),
      ],
    },
  };
}

function buildOption() {
  const yMin = lg(9572);
  const yMax = lg(226200);
  const series: any[] = [gridSeries(0), gridSeries(1)];
  eastUpper.forEach((l) => series.push(lineSeries(l, 0, GRAY, 1.4, 2)));
  eastMass.forEach((l) => series.push(lineSeries(l, 0, GRAY, 2.6, 2)));
  westTop.forEach((l) => series.push(lineSeries(l, 1, GRAY, 1.4, 2)));
  westUpper.forEach((l) => series.push(lineSeries(l, 1, GRAY, 2.0, 2)));
  westMass.forEach((l) => series.push(lineSeries(l, 1, GRAY, 4.8, 2)));
  westLow.forEach((l) => series.push(lineSeries(l, 1, GRAY, 1.4, 2)));
  series.push(lineSeries(westHighlight, 1, GREEN, 1.7, 3));
  series.push(lineSeries(eastMean, 0, BLUE, 3.2, 4));
  series.push(lineSeries(westMean, 1, BLUE, 3.2, 4));

  const xAxis = [0, 1].map((i) => ({
    type: "value",
    gridIndex: i,
    min: 1998.95,
    max: 2022.05,
    axisLine: { show: false },
    axisTick: { show: false },
    splitLine: { show: false },
    axisLabel: {
      customValues: xTickValues,
      formatter: (v: number) => String(Math.round(v)),
      fontSize: 17,
      fontFamily: FONT,
      color: "#4D4D4D",
      margin: 7,
    },
  }));
  const yAxis = [0, 1].map((i) => ({
    type: "value",
    gridIndex: i,
    min: yMin,
    max: yMax,
    axisLine: { show: false },
    axisTick: { show: false },
    splitLine: { show: false },
    axisLabel: {
      show: i === 0,
      customValues: yTickValues.map(lg),
      formatter: (v: number) => String(Math.round(Math.pow(10, v))),
      fontSize: 17,
      fontFamily: FONT,
      color: "#4D4D4D",
      margin: 12,
    },
  }));

  const textStyle = (text: string, size: number, fill: string) => ({
    text,
    fontSize: size,
    fontFamily: FONT,
    fill,
    align: "center",
    verticalAlign: "middle",
    textAlign: "center",
    textVerticalAlign: "middle",
  });

  return {
    animation: false,
    backgroundColor: "#FFFFFF",
    grid: gridPos.map((g) => ({ ...g, containLabel: false })),
    xAxis,
    yAxis,
    series,
    graphic: [
      { type: "text", x: gridPos[0].left + gridPos[0].width / 2, y: 18, silent: true, style: textStyle(panelTitles[0], 17, "#1A1A1A") },
      { type: "text", x: gridPos[1].left + gridPos[1].width / 2, y: 18, silent: true, style: textStyle(panelTitles[1], 17, "#1A1A1A") },
      { type: "text", x: 493, y: 872, silent: true, style: textStyle(xTitle, 21, "#000000") },
      { type: "text", x: 31, y: 432, rotation: Math.PI / 2, silent: true, style: textStyle(yTitle, 21, "#000000") },
    ],
  };
}

export default function App() {
  const ref = useRef<HTMLDivElement>(null);
  useEffect(() => {
    if (!ref.current) return;
    const chart = echarts.init(ref.current, undefined, { renderer: "svg" });
    chart.setOption(buildOption() as any);
    return () => chart.dispose();
  }, []);
  return (
    <div
      ref={ref}
      style={{ position: "absolute", left: 0, top: 0, width: 848, height: 882, overflow: "hidden" }}
    />
  );
}
